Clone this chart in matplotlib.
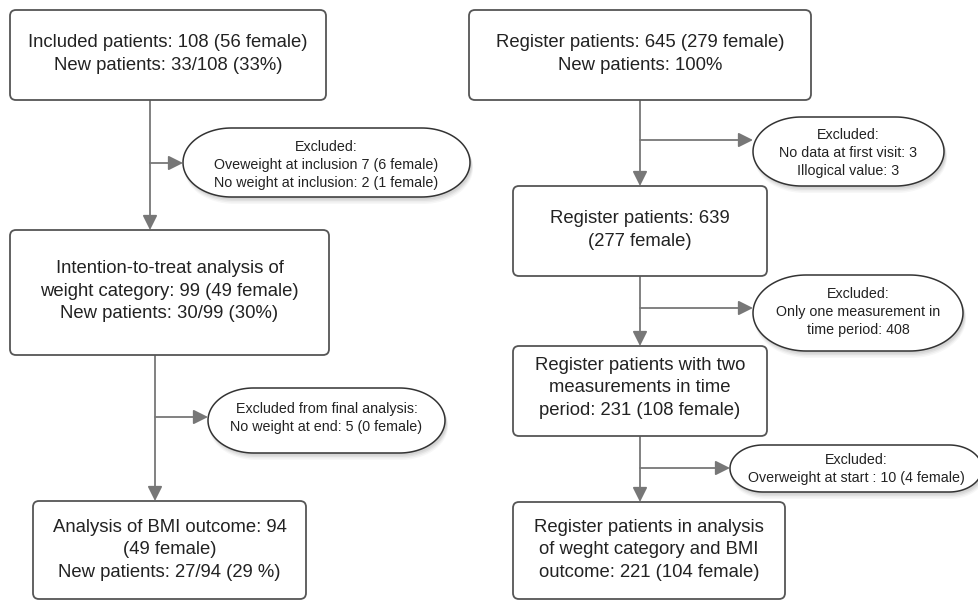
import matplotlib
matplotlib.use("Agg")
import matplotlib.pyplot as plt
import numpy as np
from matplotlib.patches import FancyBboxPatch, Polygon

plt.rcParams['font.family'] = ['Liberation Sans', 'DejaVu Sans']

# ---- data: texts of the flow chart ----
left_boxes = [
    "Included patients: 108 (56 female)\nNew patients: 33/108 (33%)",
    "Intention-to-treat analysis of\nweight category: 99 (49 female)\nNew patients: 30/99 (30%)",
    "Analysis of BMI outcome: 94\n(49 female)\nNew patients: 27/94 (29 %)",
]
left_excluded = [
    "Excluded:\nOveweight at inclusion 7 (6 female)\nNo weight at inclusion: 2 (1 female)",
    "Excluded from final analysis:\nNo weight at end: 5 (0 female)",
]
right_boxes = [
    "Register patients: 645 (279 female)\nNew patients: 100%",
    "Register patients: 639\n(277 female)",
    "Register patients with two\nmeasurements in time\nperiod: 231 (108 female)",
    "Register patients in analysis\nof weght category and BMI\noutcome: 221 (104 female)",
]
right_excluded = [
    "Excluded:\nNo data at first visit: 3\nIllogical value: 3",
    "Excluded:\nOnly one measurement in\ntime period: 408",
    "Excluded:\nOverweight at start : 10 (4 female)",
]

# ---- layout (pixels) ----
W, H = 979, 600
fig = plt.figure(figsize=(W / 100, H / 100), dpi=100)
ax = fig.add_axes([0, 0, 1, 1])
ax.set_xlim(0, W)
ax.set_ylim(H, 0)
ax.axis('off')

TXT = '#222222'
EDGE = '#555555'
LINE = '#777777'
BOX_FS = 13.3
ELL_FS = 10.3

left_box_geo = [(10, 10, 326, 100, 54), (10, 230, 329, 355, 291), (33, 501, 306, 599, 550)]
left_x = [150, 155]
left_branch = [(163, 183), (417, 208)]
left_ell_geo = [(183, 128, 470, 197, 165), (208, 388, 445, 453, 418)]

right_box_geo = [(469, 10, 811, 100, 54), (513, 186, 767, 276, 230),
                 (513, 346, 767, 436, 388), (513, 502, 785, 599, 550)]
right_x = [640, 640, 640]
right_branch = [(140, 753), (308, 753), (468, 730)]
right_ell_geo = [(753, 117, 944, 186, 153), (753, 275, 963, 351, 312), (730, 445, 982, 492, 469)]


def draw_box(x0, y0, x1, y1, ty, text):
    p = FancyBboxPatch((x0, y0), x1 - x0, y1 - y0,
                       boxstyle="round,pad=0,rounding_size=6",
                       fc='white', ec=EDGE, lw=1.3, zorder=3)
    ax.add_patch(p)
    ax.text((x0 + x1) / 2, ty, text, ha='center', va='center',
            fontsize=BOX_FS, color=TXT, linespacing=1.45, zorder=4)


def pill(x0, y0, x1, y1, num=60):
    h = y1 - y0
    w = x1 - x0
    rx = min(0.7 * h, w / 2)
    ry = h / 2
    cy = (y0 + y1) / 2
    t = np.linspace(-np.pi / 2, np.pi / 2, num)
    right = np.column_stack([x1 - rx + rx * np.cos(t), cy + ry * np.sin(t)])
    t2 = np.linspace(np.pi / 2, 3 * np.pi / 2, num)
    left = np.column_stack([x0 + rx + rx * np.cos(t2), cy + ry * np.sin(t2)])
    return np.vstack([right, left])


def draw_ellipse(x0, y0, x1, y1, ty, text):
    for k, al in [(7, 0.03), (5.5, 0.04), (4, 0.05), (2.5, 0.05)]:
        pts = pill(x0 + 1, y0 + k * 0.6, x1 + 1 + k * 0.3, y1 + k)
        ax.add_patch(Polygon(pts, closed=True, fc='black', ec='none', alpha=al, zorder=2))
    pts = pill(x0, y0, x1, y1)
    ax.add_patch(Polygon(pts, closed=True, fc='white', ec='#333333', lw=1.1, zorder=3))
    ax.text((x0 + x1) / 2, ty, text, ha='center', va='center',
            fontsize=ELL_FS, color=TXT, linespacing=1.4, zorder=4)


def arrow(x0, y0, x1, y1):
    ax.annotate('', xy=(x1, y1), xytext=(x0, y0),
                arrowprops=dict(arrowstyle='-|>', color=LINE, lw=1.3,
                                mutation_scale=22, shrinkA=0, shrinkB=0),
                zorder=1)


def column(box_geo, boxes, xs, branches, ell_geo, excl):
    for g, t in zip(box_geo, boxes):
        draw_box(*g, t)
    for i in range(len(box_geo) - 1):
        x = xs[i]
        arrow(x, box_geo[i][3], x, box_geo[i + 1][1])
        by, bx = branches[i]
        arrow(x, by, bx, by)
        draw_ellipse(*ell_geo[i], excl[i])


column(left_box_geo, left_boxes, left_x, left_branch, left_ell_geo, left_excluded)
column(right_box_geo, right_boxes, right_x, right_branch, right_ell_geo, right_excluded)

fig.savefig('out.png', dpi=100, facecolor='white')
